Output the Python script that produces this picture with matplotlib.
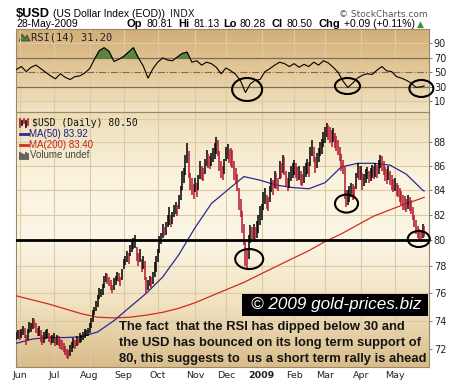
import matplotlib
matplotlib.use("Agg")
import matplotlib.pyplot as plt
import numpy as np
import pandas as pd
from matplotlib import font_manager
from matplotlib.colors import LinearSegmentedColormap
from matplotlib.lines import Line2D
from matplotlib.patches import Ellipse, Polygon, Rectangle
from matplotlib.ticker import NullLocator
from matplotlib.transforms import ScaledTranslation

W, H, DPI = 460, 383, 100

# trading calendar of the chart (US holidays taken out)
holidays = ["2008-07-04", "2008-09-01", "2008-11-27", "2008-12-25", "2009-01-01",
            "2009-01-19", "2009-02-16", "2009-04-10", "2009-05-25"]
month_labels = ["Jun", "Jul", "Aug", "Sep", "Oct", "Nov", "Dec", "2009",
                "Feb", "Mar", "Apr", "May"]

# daily bars, high / low
highs = [
    73.2, 73.3,
    73.3, 73.4, 73.6, 73.5, 73.0, 73.4, 73.9, 73.8, 74.2, 74.1, 73.8, 73.5, 73.6, 73.3, 73.0,
    73.2, 73.3, 73.4, 73.1, 72.9, 73.0,
    73.1, 72.8, 73.0, 72.9, 72.7, 72.6, 72.4, 72.2, 72.0, 71.9, 72.3, 72.5, 72.8, 72.6, 72.9,
    72.8, 73.1, 73.0, 73.2, 73.4, 73.3, 73.5,
    73.8, 74.2, 74.8, 75.0, 75.4, 75.9, 76.4, 76.3, 76.7, 77.3, 77.5, 77.4, 77.2, 77.0, 76.6,
    77.1, 77.3, 77.6, 77.5, 77.2, 77.8,
    78.6, 78.8, 79.2, 79.0, 79.6, 79.9, 80.2, 80.4, 79.5, 79.0, 79.3, 78.6, 78.8, 78.4, 77.2,
    77.0, 77.3, 77.2, 77.6, 78.3, 78.8,
    79.3, 80.3, 80.6, 81.3, 81.0, 81.4, 82.0, 82.6, 82.0, 82.2, 82.8, 83.0, 82.8, 83.6, 84.3,
    85.6, 85.8, 86.9, 87.9, 87.2, 85.4, 85.0, 84.5,
    85.0, 84.6, 85.2, 86.4, 86.0, 85.8, 86.6, 87.3, 87.0, 86.8, 87.1, 87.5, 87.9, 88.4, 88.2,
    87.2, 86.4, 86.0, 86.6,
    87.6, 87.8, 87.4, 87.5, 87.3, 86.4, 85.8, 85.3, 84.2, 83.3, 82.3, 81.3, 80.0, 79.3, 80.4,
    81.2, 81.0, 81.3, 81.0, 81.5, 82.0, 82.7,
    82.9, 83.8, 84.2, 83.6, 83.4, 84.3, 85.0, 84.8, 85.6, 85.4, 85.0, 86.4, 86.2, 86.9, 86.7,
    85.6, 85.0, 85.5, 86.0, 86.2,
    86.5, 86.2, 85.9, 86.0, 85.6, 85.3, 86.0, 86.2, 86.6, 86.3, 87.6, 88.2, 87.6, 86.7, 87.1,
    87.5, 88.0, 88.3, 88.9,
    89.3, 89.6, 89.5, 89.3, 89.0, 89.2, 88.8, 88.5, 88.2, 87.6, 87.0, 86.5, 86.0, 84.0, 84.0,
    84.3, 84.6, 84.5, 84.3, 85.4, 86.2, 86.0,
    86.0, 85.4, 85.3, 85.7, 85.9, 85.6, 85.8, 86.1, 86.0, 86.2, 86.1, 86.5, 86.9, 86.8, 86.4,
    85.9, 85.7, 86.0, 85.6, 85.2, 84.9,
    85.0, 84.6, 84.4, 84.2, 83.9, 83.6, 83.5, 83.3, 83.6, 83.4, 83.2, 82.6, 82.0, 81.6, 81.1,
    80.9, 80.8, 81.3, 81.13,
]
lows = [
    72.6, 72.7,
    72.6, 72.8, 73.0, 72.8, 72.3, 72.6, 73.1, 73.2, 73.4, 73.5, 73.1, 72.9, 72.9, 72.5, 72.3,
    72.4, 72.7, 72.8, 72.5, 72.3, 72.4,
    72.4, 72.2, 72.3, 72.2, 72.0, 71.9, 71.8, 71.6, 71.4, 71.3, 71.5, 71.8, 72.1, 72.0, 72.2,
    72.3, 72.4, 72.5, 72.6, 72.8, 72.9, 72.9,
    73.1, 73.5, 73.9, 74.4, 74.7, 75.0, 75.6, 75.7, 75.9, 76.4, 76.8, 76.7, 76.5, 76.2, 76.0,
    76.2, 76.6, 76.9, 76.8, 76.5, 77.0,
    77.8, 78.1, 78.3, 78.2, 78.8, 79.1, 79.3, 79.4, 78.4, 78.0, 78.3, 77.6, 77.8, 77.0, 76.0,
    76.2, 76.5, 76.4, 76.7, 77.2, 77.6,
    78.3, 79.0, 79.7, 80.2, 80.3, 80.4, 81.0, 81.2, 81.0, 81.3, 81.8, 82.1, 81.9, 82.5, 83.2,
    84.0, 84.6, 85.2, 86.2, 85.0, 84.0, 83.6, 83.3,
    83.8, 83.4, 84.0, 84.9, 84.8, 84.7, 85.3, 86.0, 85.8, 85.7, 86.0, 86.3, 86.6, 87.0, 86.8,
    85.6, 85.0, 84.8, 85.3,
    86.4, 86.6, 86.2, 86.0, 85.8, 84.8, 84.5, 83.9, 82.4, 81.8, 80.6, 79.6, 78.0, 77.7, 78.6,
    79.8, 79.9, 80.1, 79.9, 80.2, 80.6, 81.2,
    81.6, 82.4, 82.9, 82.5, 82.3, 83.0, 83.8, 83.6, 84.2, 84.1, 83.9, 84.9, 85.0, 85.4, 85.2,
    84.3, 83.9, 84.2, 84.7, 85.0,
    85.2, 85.0, 84.7, 84.8, 84.4, 84.3, 84.6, 85.1, 85.3, 85.1, 86.0, 86.8, 86.3, 85.4, 85.8,
    86.3, 86.8, 87.0, 87.6,
    87.9, 88.4, 88.2, 87.9, 87.6, 88.0, 87.5, 87.2, 86.9, 86.4, 85.6, 85.3, 83.3, 82.6, 82.8,
    83.0, 83.4, 83.2, 83.3, 84.1, 85.0, 84.8,
    84.8, 84.0, 84.3, 84.6, 84.9, 84.6, 84.7, 85.0, 84.9, 85.1, 85.0, 85.3, 85.8, 85.6, 85.2,
    84.7, 84.5, 84.8, 84.4, 84.0, 83.8,
    83.9, 83.5, 83.4, 83.0, 82.8, 82.4, 82.4, 82.2, 82.5, 82.3, 82.1, 81.6, 81.0, 80.5, 80.2,
    80.1, 79.9, 80.2, 80.28,
]

# moving averages, one reading every 10 bars (last one on the final bar)
ma50 = [72.4, 72.7, 72.8, 72.8, 72.85, 73.2, 74.0, 75.0, 76.0, 77.2, 78.9, 81.0, 82.9,
        84.0, 85.1, 84.8, 84.4, 84.2, 84.1, 84.6, 85.9, 86.2, 86.2, 86.05, 85.3, 84.0, 83.92]
ma200 = [75.8, 75.5, 75.2, 74.85, 74.5, 74.25, 74.2, 74.25, 74.4, 74.6, 74.9, 75.3, 75.8,
         76.3, 76.8, 77.4, 78.0, 78.6, 79.2, 79.9, 80.5, 81.2, 81.9, 82.4, 82.9, 83.35, 83.40]

# RSI(14), one reading every 3 bars (last one on the final bar)
rsi14 = [54, 58, 51, 57, 60, 55, 50, 45, 41, 48,
         43, 40, 44, 45, 49, 55, 68, 80, 84, 79,
         65, 68, 72, 78, 84, 70, 59, 42, 55, 64,
         70, 67, 66, 71, 76, 78, 64, 66, 60, 64,
         62, 57, 48, 56, 52, 47, 38, 22, 34, 39,
         40, 51, 55, 60, 64, 62, 58, 62, 57, 61,
         58, 64, 60, 66, 63, 57, 50, 38, 29, 35,
         42, 46, 48, 47, 53, 58, 52, 51, 44, 42,
         39, 35, 29, 30, 31.2]

price_ticks = [72, 74, 76, 78, 80, 82, 84, 86, 88]
rsi_ticks = [10, 30, 50, 70, 90]
support = 80

note_lines = [
    "The fact  that the RSI has dipped below 30 and",
    "the USD has bounced on its long term support of",
    "80, this suggests to  us a short term rally is ahead",
]

RED = "#B3162E"
BLUE = "#2A2A96"
MA_RED = "#D22B22"
GRID = "#DCCAA4"
EDGE = "#9A8868"


def main() -> None:
    days = pd.bdate_range("2008-05-29", "2009-05-28")
    days = days[~days.isin(pd.to_datetime(holidays))]
    n = len(days)
    x = np.arange(n)
    months = days.month.values
    month_starts = np.flatnonzero(months[1:] != months[:-1]) + 1

    hi = np.array(highs)
    lo = np.array(lows)
    mid = (hi + lo) / 2
    up = np.r_[True, mid[1:] >= mid[:-1]]
    bar_colors = np.where(up, "black", RED)

    ma_x = np.minimum(np.arange(len(ma50)) * 10, n - 1)
    rsi_x = np.minimum(np.arange(len(rsi14)) * 3, n - 1)
    rsi = np.array(rsi14, dtype=float)

    names = {f.name for f in font_manager.fontManager.ttflist}
    if "Liberation Sans Narrow" in names:
        note_font, note_size = ["Liberation Sans Narrow"], 11.1
    else:
        note_font, note_size = ["Liberation Sans"], 9.4

    fig = plt.figure(figsize=(W / DPI, H / DPI), dpi=DPI, facecolor="white")

    def box(left, top, right, bottom):
        return [left / W, 1 - bottom / H, (right - left) / W, (bottom - top) / H]

    def fx(px):
        return px / W

    def fy(py):
        return 1 - py / H

    def backdrop(rect, colors):
        bg = fig.add_axes(rect, zorder=0)
        cmap = LinearSegmentedColormap.from_list("bg", colors)
        bg.imshow(np.linspace(0, 1, 256).reshape(-1, 1), cmap=cmap, aspect="auto",
                  extent=[0, 1, 0, 1], origin="upper")
        bg.set_axis_off()

    rsi_rect = box(16, 29, 429, 112)
    price_rect = box(16, 112, 429, 367)
    backdrop(rsi_rect, ["#D2AD78", "#E4C999", "#F2E3C3"])
    backdrop(price_rect, ["#EEDDB6", "#FAF3DD", "#FBF6E6", "#F1E2C0", "#D9BC89"])

    ax_r = fig.add_axes(rsi_rect, zorder=1)
    ax_p = fig.add_axes(price_rect, zorder=1)
    for ax in (ax_r, ax_p):
        ax.patch.set_facecolor("none")
        ax.set_xlim(-0.3, 254)
        for s in ax.spines.values():
            s.set_color(EDGE)
            s.set_linewidth(0.8)
        for m in month_starts:
            ax.axvline(m, color=GRID, lw=0.8, zorder=1)

    # ---- RSI panel
    ax_r.set_ylim(-5, 110)
    for level in (10, 90):
        ax_r.axhline(level, color=GRID, lw=0.8, zorder=1)
    for level in (30, 70):
        ax_r.axhline(level, color="#7C6C58", lw=0.9, zorder=2)
    ax_r.axhline(50, color="#7C6C58", lw=0.8, ls="-.", zorder=2)
    ax_r.fill_between(rsi_x, 70, rsi, where=rsi > 70, interpolate=True,
                      color="#4F7E3C", alpha=0.9, zorder=3)
    ax_r.plot(rsi_x, rsi, color="black", lw=0.8, zorder=4)
    ax_r.set_xticks([])
    ax_r.yaxis.tick_right()
    ax_r.set_yticks(rsi_ticks)
    ax_r.tick_params(axis="y", length=2, width=0.6, color="#666", labelsize=7,
                     pad=1.5, labelcolor="#222")

    # ---- price panel
    ax_p.set_yscale("log")
    ax_p.set_ylim(70.75, 90.6)
    for level in price_ticks + [90]:
        ax_p.axhline(level, color=GRID, lw=0.8, zorder=1)
    ax_p.plot(ma_x, ma200, color=MA_RED, lw=0.9, zorder=3)
    ax_p.plot(ma_x, ma50, color=BLUE, lw=0.9, zorder=3)
    ax_p.vlines(x, lo, hi, colors=bar_colors, lw=1.1, zorder=4)
    ax_p.axhline(support, color="black", lw=2.0, zorder=5)
    ax_p.yaxis.tick_right()
    ax_p.set_yticks(price_ticks)
    ax_p.set_yticklabels([str(t) for t in price_ticks])
    ax_p.yaxis.set_minor_locator(NullLocator())
    ax_p.tick_params(axis="y", length=2, width=0.6, color="#666", labelsize=7,
                     pad=1.5, labelcolor="#222")
    ax_p.set_xticks(month_starts)
    ax_p.set_xticklabels(month_labels)
    ax_p.tick_params(axis="x", length=0, labelsize=6.8, pad=3, labelcolor="#222")
    for lab in ax_p.get_xticklabels():
        if lab.get_text() == "2009":
            lab.set_fontweight("bold")

    # ---- hand drawn rings
    def ring(ax, cx, cy, w_px, h_px):
        tr = fig.dpi_scale_trans + ScaledTranslation(cx, cy, ax.transData)
        ax.add_patch(Ellipse((0, 0), w_px / DPI, h_px / DPI, transform=tr, fill=False,
                             ec="black", lw=1.5, clip_on=False, zorder=7))

    for cx, cy, w, h in [(142, 26.2, 30, 23), (203.8, 31, 25, 16), (249.3, 27.6, 24, 17)]:
        ring(ax_r, cx, cy, w, h)
    for cx, cy, w, h in [(143.3, 78.56, 28, 20), (203.2, 82.9, 23, 18), (247.7, 80.1, 22, 16)]:
        ring(ax_p, cx, cy, w, h)

    # ---- header
    sans = ["Liberation Sans", "DejaVu Sans"]
    fig.text(fx(16), fy(17), "$USD", family=sans, weight="bold", size=9.2, va="baseline")
    fig.text(fx(53), fy(17), "(US Dollar Index (EOD))", family=sans, size=7.5, va="baseline")
    fig.text(fx(170), fy(17), "INDX", size=7, va="baseline", color="#222")
    fig.text(fx(428), fy(17), "\u00a9 StockCharts.com", size=6.5, va="baseline",
             ha="right", color="#555")
    fig.text(fx(16), fy(27), "28-May-2009", family=sans, size=7.5, va="baseline")
    header = [(127, "Op", True), (147, "80.81", False), (178, "Hi", True),
              (194, "81.13", False), (223, "Lo", True), (240, "80.28", False),
              (272, "Cl", True), (287, "80.50", False), (319, "Chg", True),
              (344, "+0.09 (+0.11%)", False)]
    for px, txt, bold in header:
        fig.text(fx(px), fy(27), txt, family=sans, size=8 if bold else 7.5,
                 weight="bold" if bold else "normal", va="baseline")
    fig.text(fx(417), fy(27), "\u25b2", size=6.5, va="baseline", color="#2E9A2E")

    # ---- legends
    fig.add_artist(Polygon([(fx(19), fy(41)), (fx(22), fy(34)), (fx(25), fy(38)),
                            (fx(27), fy(35)), (fx(30), fy(41))],
                           closed=True, fc="#4F7E3C", ec="#333", lw=0.5))
    fig.text(fx(31), fy(37), "RSI(14) 31.20", family="DejaVu Sans Mono", size=7.5,
             va="center", color="#222")
    for i, xx in enumerate(range(20, 30, 2)):
        fig.add_artist(Line2D([fx(xx), fx(xx)], [fy(127 - (i % 3) * 2), fy(119 + (i % 2) * 2)],
                              color="black" if i % 2 else RED, lw=1.2))
    fig.text(fx(32), fy(123), "$USD (Daily) 80.50", family="DejaVu Sans Mono", size=7,
             va="center", color="#111")
    fig.add_artist(Line2D([fx(20), fx(28)], [fy(134), fy(134)], color=BLUE, lw=2))
    fig.text(fx(29), fy(134), "MA(50) 83.92", family=sans, size=7, va="center", color="#1A1A80")
    fig.add_artist(Line2D([fx(20), fx(28)], [fy(145), fy(145)], color=MA_RED, lw=2))
    fig.text(fx(29), fy(145), "MA(200) 83.40", family=sans, size=7, va="center", color="#C42020")
    for i, xx in enumerate(range(20, 29, 2)):
        fig.add_artist(Line2D([fx(xx), fx(xx)], [fy(159), fy(153 + (i % 3))],
                              color="#555", lw=1.3))
    fig.text(fx(30), fy(155), "Volume undef", family=sans, size=7, va="center", color="#444")

    # ---- watermark and note
    fig.add_artist(Rectangle((fx(242), fy(316)), fx(428) - fx(242), fy(294) - fy(316),
                             transform=fig.transFigure, fc="black", ec="none", zorder=8))
    fig.text(fx(251), fy(305), "\u00a9 2009 gold-prices.biz", family=sans, style="italic",
             size=12.3, color="white", va="center", zorder=9)
    for i, line in enumerate(note_lines):
        fig.text(fx(119), fy(327 + 16 * i), line, family=note_font + ["DejaVu Sans"],
                 weight="bold", size=note_size, va="center", color="#141414", zorder=9)

    fig.savefig("out.png", dpi=DPI, facecolor="white")


if __name__ == "__main__":
    main()
